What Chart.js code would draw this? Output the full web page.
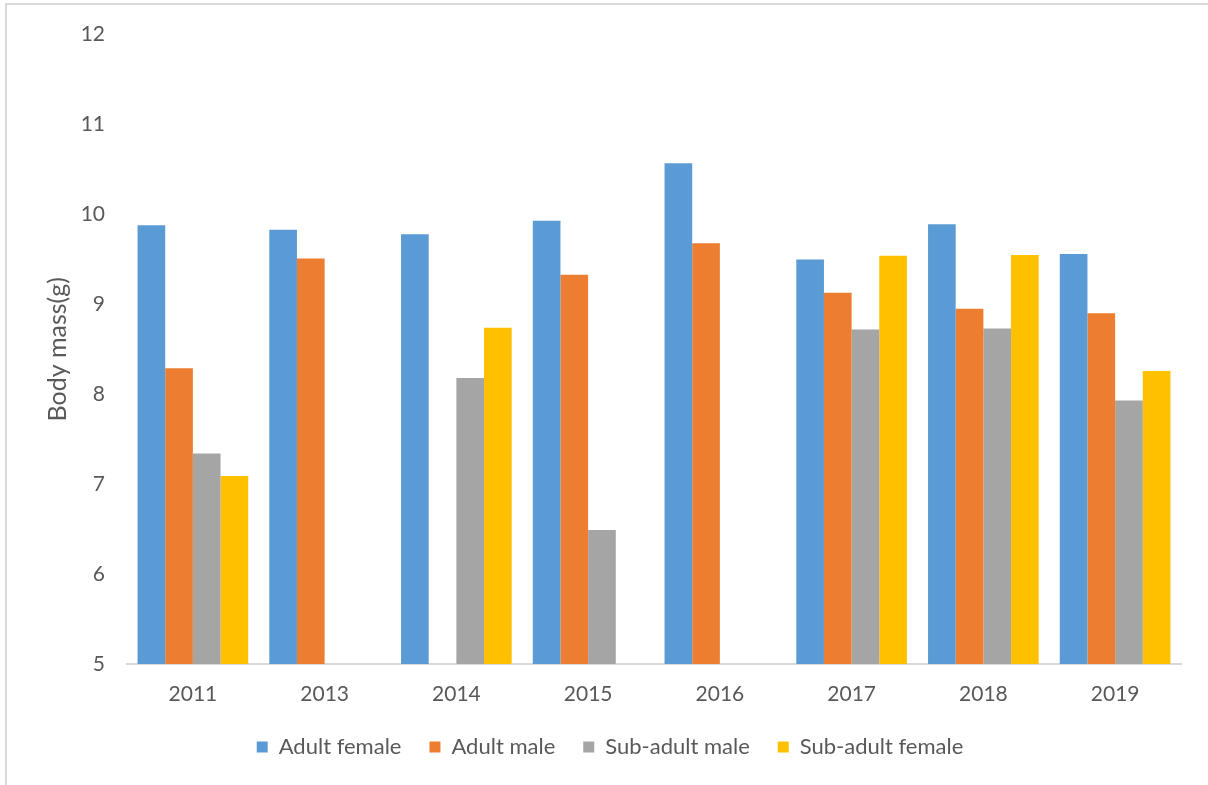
<!DOCTYPE html>
<html>
<head>
<meta charset="utf-8">
<title>Body mass by year</title>
<script src="https://cdn.jsdelivr.net/npm/chart.js@4.4.1/dist/chart.umd.min.js"></script>
<style>
  html, body { margin: 0; padding: 0; background: #fff; }
  #wrap { position: relative; width: 1208px; height: 785px; }
  #frame {
    position: absolute; left: 5px; top: 3px; right: 0; bottom: 0;
    border-top: 2px solid #d9d9d9; border-left: 2px solid #d9d9d9;
    pointer-events: none;
  }
  canvas { position: absolute; left: 0; top: 0; }
</style>
</head>
<body>
<div id="wrap">
  <canvas id="massChart" width="1208" height="785"></canvas>
  <div id="frame"></div>
</div>
<script>
// Survey years and mean body mass (g) per group; null = no sample that year
const years = ['2011', '2013', '2014', '2015', '2016', '2017', '2018', '2019'];
const adultFemale    = [9.88, 9.83, 9.78, 9.93, 10.57, 9.50, 9.89, 9.56];
const adultMale      = [8.29, 9.51, null, 9.33, 9.68, 9.13, 8.95, 8.90];
const subAdultMale   = [7.34, null, 8.18, 6.49, null, 8.72, 8.73, 7.93];
const subAdultFemale = [7.09, null, 8.74, null, null, 9.54, 9.55, 8.26];
const yTicks = [5, 6, 7, 8, 9, 10, 11, 12];

const seriesNames  = ['Adult female', 'Adult male', 'Sub-adult male', 'Sub-adult female'];
const seriesColors = ['#5B9BD5', '#ED7D31', '#A5A5A5', '#FFC000'];
const seriesData   = [adultFemale, adultMale, subAdultMale, subAdultFemale];

const textColor = '#595959';
const fontFamily = 'Lato, "Open Sans", sans-serif';

document.addEventListener('DOMContentLoaded', function() {
    const ctx = document.getElementById('massChart').getContext('2d');

    new Chart(ctx, {
        type: 'bar',
        data: {
            labels: years,
            datasets: seriesNames.map((name, i) => ({
                label: name,
                data: seriesData[i],
                backgroundColor: seriesColors[i],
                borderWidth: 0,
                categoryPercentage: 0.84,
                barPercentage: 1.0
            }))
        },
        options: {
            responsive: false,
            animation: false,
            layout: {
                padding: { left: 39, right: 27, top: 32, bottom: 17 }
            },
            plugins: {
                legend: {
                    position: 'bottom',
                    labels: {
                        boxWidth: 11,
                        boxHeight: 11,
                        padding: 28,
                        color: textColor,
                        font: { family: fontFamily, size: 22 }
                    }
                },
                tooltip: { enabled: false }
            },
            scales: {
                x: {
                    grid: { display: false, drawTicks: false },
                    border: { display: true, color: '#d9d9d9', width: 2 },
                    ticks: {
                        color: textColor,
                        padding: 18,
                        font: { family: fontFamily, size: 21 }
                    },
                    afterFit: function(scale) { scale.height = 44; }
                },
                y: {
                    min: 5,
                    max: 12,
                    afterBuildTicks: function(scale) {
                        scale.ticks = yTicks.map(v => ({ value: v }));
                    },
                    grid: { display: false, drawTicks: false },
                    border: { display: false },
                    ticks: {
                        color: textColor,
                        padding: 22,
                        font: { family: fontFamily, size: 21 }
                    },
                    title: {
                        display: true,
                        text: 'Body mass(g)',
                        color: textColor,
                        font: { family: fontFamily, size: 25 }
                    },
                    afterFit: function(scale) { scale.width = 88; }
                }
            }
        }
    });
});
</script>
</body>
</html>
